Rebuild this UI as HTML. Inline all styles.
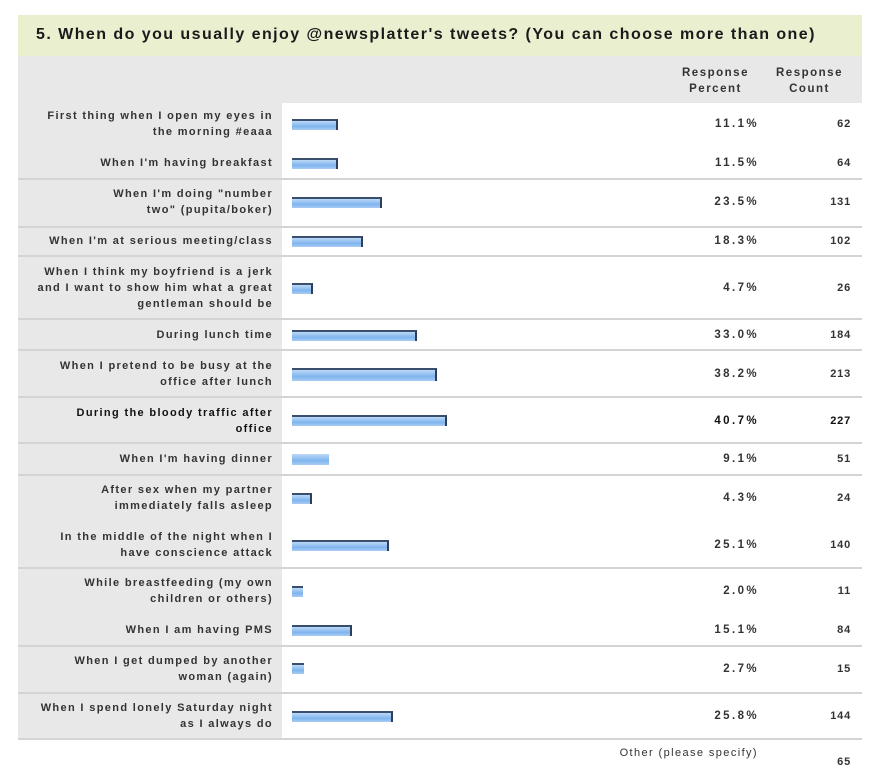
<!DOCTYPE html>
<html><head><meta charset="utf-8"><style>
body{margin:0;background:#fff;width:884px;height:768px;position:relative;overflow:hidden;font-family:"Liberation Sans",Arial,sans-serif;color:#333;}
.title{position:absolute;left:18px;top:15px;width:844px;height:41px;background:#e9efcf;}
.title span{position:absolute;left:18px;top:11px;font-size:16px;font-weight:bold;color:#1a1a1a;letter-spacing:1.45px;white-space:nowrap}
.hdr{position:absolute;left:18px;top:56px;width:844px;height:47px;background:#e8e8e8;}
.hc{position:absolute;top:9px;font-size:11.5px;font-weight:bold;text-align:center;line-height:16px;letter-spacing:1.5px;color:#333}
.left{position:absolute;left:18px;top:103px;width:264px;height:636px;background:#e8e8e8;}
.line{position:absolute;left:18px;width:844px;height:2px;background:#d4d4d4;}
.lab{position:absolute;right:611px;font-size:11px;font-weight:bold;text-align:right;line-height:16px;letter-spacing:1.35px;color:#333;white-space:nowrap}
.bar{position:absolute;left:292px;height:11px;background:linear-gradient(#bcd9f7,#7fb4ee 60%,#a9cdf3);border-top:2px solid #3a4f6e;border-right:2px solid #2d3e5a;box-sizing:border-box}
.p{position:absolute;right:125px;font-size:11.5px;font-weight:bold;letter-spacing:2.4px}
.c{position:absolute;right:33px;font-size:11px;font-weight:bold;letter-spacing:0.8px}
</style></head><body>
<div class="title"><span>5. When do you usually enjoy @newsplatter's tweets? (You can choose more than one)</span></div>
<div class="hdr"><div class="hc" style="left:664px">Response<br>Percent</div><div class="hc" style="left:758px">Response<br>Count</div></div>
<div class="left"></div>
<div class="line" style="top:178px"></div><div class="line" style="top:226px"></div><div class="line" style="top:255px"></div><div class="line" style="top:318px"></div><div class="line" style="top:349px"></div><div class="line" style="top:396px"></div><div class="line" style="top:442px"></div><div class="line" style="top:474px"></div><div class="line" style="top:567px"></div><div class="line" style="top:645px"></div><div class="line" style="top:692px"></div><div class="line" style="top:738px"></div>

<div class="lab" style="top:108px">First thing when I open my eyes in<br>the morning #eaaa</div><div class="bar" style="top:119px;width:46px"></div><div class="p" style="top:118px">11.1%</div><div class="c" style="top:118px">62</div>
<div class="lab" style="top:155px">When I'm having breakfast</div><div class="bar" style="top:158px;width:46px"></div><div class="p" style="top:157px">11.5%</div><div class="c" style="top:157px">64</div>
<div class="lab" style="top:186px">When I'm doing "number<br>two" (pupita/boker)</div><div class="bar" style="top:197px;width:90px"></div><div class="p" style="top:196px">23.5%</div><div class="c" style="top:196px">131</div>
<div class="lab" style="top:233px">When I'm at serious meeting/class</div><div class="bar" style="top:236px;width:71px"></div><div class="p" style="top:235px">18.3%</div><div class="c" style="top:235px">102</div>
<div class="lab" style="top:264px">When I think my boyfriend is a jerk<br>and I want to show him what a great<br>gentleman should be</div><div class="bar" style="top:283px;width:21px"></div><div class="p" style="top:282px">4.7%</div><div class="c" style="top:282px">26</div>
<div class="lab" style="top:327px">During lunch time</div><div class="bar" style="top:330px;width:125px"></div><div class="p" style="top:329px">33.0%</div><div class="c" style="top:329px">184</div>
<div class="lab" style="top:358px">When I pretend to be busy at the<br>office after lunch</div><div class="bar" style="top:368px;width:145px;height:13px"></div><div class="p" style="top:368px">38.2%</div><div class="c" style="top:368px">213</div>
<div class="lab" style="top:405px;color:#111">During the bloody traffic after<br>office</div><div class="bar" style="top:415px;width:155px"></div><div class="p" style="top:415px;color:#111">40.7%</div><div class="c" style="top:415px;color:#111">227</div>
<div class="lab" style="top:451px">When I'm having dinner</div><div class="bar" style="top:454px;width:37px;border:none"></div><div class="p" style="top:453px">9.1%</div><div class="c" style="top:453px">51</div>
<div class="lab" style="top:482px">After sex when my partner<br>immediately falls asleep</div><div class="bar" style="top:493px;width:20px"></div><div class="p" style="top:492px">4.3%</div><div class="c" style="top:492px">24</div>
<div class="lab" style="top:529px">In the middle of the night when I<br>have conscience attack</div><div class="bar" style="top:540px;width:97px"></div><div class="p" style="top:539px">25.1%</div><div class="c" style="top:539px">140</div>
<div class="lab" style="top:575px">While breastfeeding (my own<br>children or others)</div><div class="bar" style="top:586px;width:11px;border-right:none"></div><div class="p" style="top:585px">2.0%</div><div class="c" style="top:585px">11</div>
<div class="lab" style="top:622px">When I am having PMS</div><div class="bar" style="top:625px;width:60px"></div><div class="p" style="top:624px">15.1%</div><div class="c" style="top:624px">84</div>
<div class="lab" style="top:653px">When I get dumped by another<br>woman (again)</div><div class="bar" style="top:663px;width:12px;border-right:none"></div><div class="p" style="top:663px">2.7%</div><div class="c" style="top:663px">15</div>
<div class="lab" style="top:700px">When I spend lonely Saturday night<br>as I always do</div><div class="bar" style="top:711px;width:101px"></div><div class="p" style="top:710px">25.8%</div><div class="c" style="top:710px">144</div>
<div class="p" style="top:747px;font-weight:normal;font-size:11px;letter-spacing:1.4px;right:126px">Other (please specify)</div><div class="c" style="top:756px">65</div>
</body></html>
